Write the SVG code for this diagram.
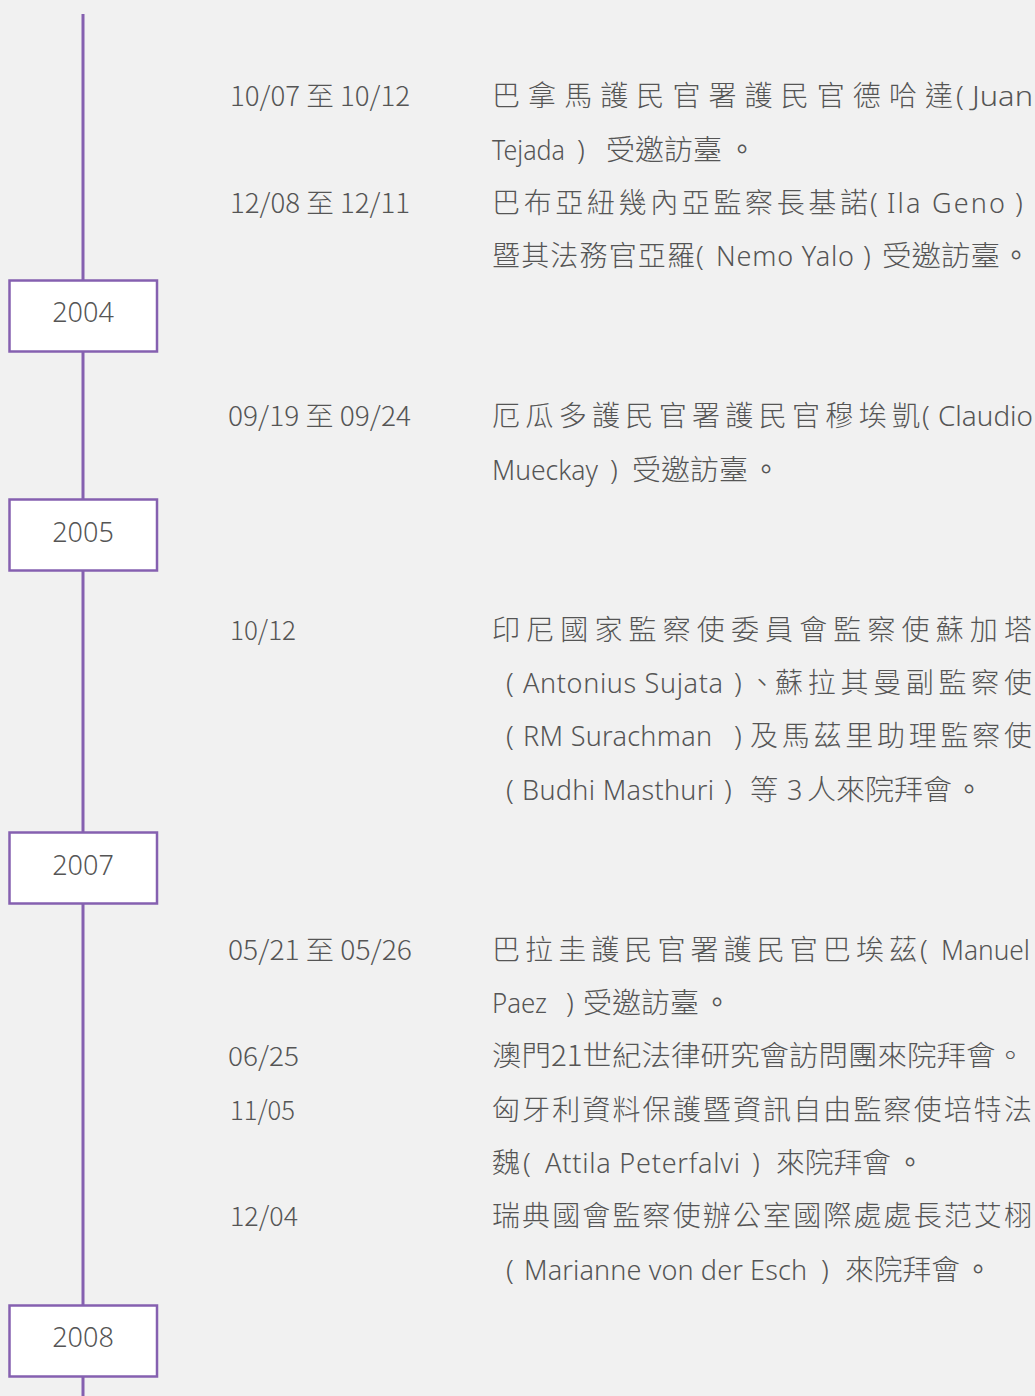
<svg xmlns="http://www.w3.org/2000/svg" width="1035" height="1396" viewBox="0 0 1035 1396">
<style>
.bg{fill:#f1f1f1}
.axis{stroke:#8560b0;stroke-width:3;fill:none}
.box{fill:#ffffff;stroke:#8560b0;stroke-width:2.5}
.yr{font-family:"Noto Sans","Noto Sans CJK TC",sans-serif;font-size:27px;fill:#555555;text-anchor:middle;font-weight:300}
.t{font-family:"Noto Sans CJK TC","Noto Sans",sans-serif;font-size:27px;fill:#555555;font-weight:300}
.c{font-family:"Noto Sans CJK TC","Noto Sans",sans-serif;font-size:28px;fill:#555555;font-weight:300}
.l{font-family:"Noto Sans","Noto Sans CJK TC",sans-serif;font-size:27px;fill:#555555;font-weight:300}
.p{font-family:"Noto Sans","Noto Sans CJK TC",sans-serif;font-size:28px;fill:#555555;font-weight:300;text-anchor:middle}
.d{font-family:"Noto Sans CJK TC","Noto Sans",sans-serif;font-size:28px;fill:#555555;text-anchor:middle}
</style>
<rect class="bg" x="0" y="0" width="1035" height="1396"/>
<g id="connectors">
<line class="axis" x1="83" y1="14" x2="83" y2="1396"/>
</g>
<g id="y2004">
<rect class="box" x="9.5" y="280.5" width="147.5" height="71"/>
<text class="yr" x="83" y="322">2004</text>
</g>
<g id="y2005">
<rect class="box" x="9.5" y="499.5" width="147.5" height="71"/>
<text class="yr" x="83" y="542">2005</text>
</g>
<g id="y2007">
<rect class="box" x="9.5" y="832.5" width="147.5" height="71"/>
<text class="yr" x="83" y="875">2007</text>
</g>
<g id="y2008">
<rect class="box" x="9.5" y="1305.5" width="147.5" height="71"/>
<text class="yr" x="83" y="1347">2008</text>
</g>
<g id="events2004">
<text class="t" x="230" y="106" textLength="180" lengthAdjust="spacingAndGlyphs">10/07 至 10/12</text>
<text class="c" x="492" y="106" textLength="461" lengthAdjust="spacing">巴拿馬護民官署護民官德哈達</text>
<text class="p" x="960" y="106">(</text>
<text class="l" x="972" y="106" textLength="61" lengthAdjust="spacingAndGlyphs">Juan</text>
<text class="l" x="492" y="160" textLength="73" lengthAdjust="spacingAndGlyphs">Tejada</text>
<text class="p" x="581" y="160">)</text>
<text class="c" x="606" y="160" textLength="116" lengthAdjust="spacingAndGlyphs">受邀訪臺</text>
<text class="d" x="742" y="160">。</text>
<text class="t" x="230" y="213" textLength="180" lengthAdjust="spacingAndGlyphs">12/08 至 12/11</text>
<text class="c" x="492" y="213" textLength="376" lengthAdjust="spacing">巴布亞紐幾內亞監察長基諾</text>
<text class="p" x="874" y="213">(</text>
<text class="l" x="887" y="213" textLength="118" lengthAdjust="spacing">Ila Geno</text>
<text class="p" x="1019" y="213">)</text>
<text class="c" x="492" y="266" textLength="203" lengthAdjust="spacing">暨其法務官亞羅</text>
<text class="p" x="700" y="266">(</text>
<text class="l" x="716" y="266" textLength="138" lengthAdjust="spacing">Nemo Yalo</text>
<text class="p" x="867" y="266">)</text>
<text class="c" x="882" y="266" textLength="118" lengthAdjust="spacingAndGlyphs">受邀訪臺</text>
<text class="d" x="1016" y="266">。</text>
</g>
<g id="events2005">
<text class="t" x="228" y="426" textLength="183" lengthAdjust="spacingAndGlyphs">09/19 至 09/24</text>
<text class="c" x="492" y="426" textLength="428" lengthAdjust="spacing">厄瓜多護民官署護民官穆埃凱</text>
<text class="p" x="926" y="426">(</text>
<text class="l" x="938" y="426" textLength="95" lengthAdjust="spacingAndGlyphs">Claudio</text>
<text class="l" x="492" y="480" textLength="106" lengthAdjust="spacingAndGlyphs">Mueckay</text>
<text class="p" x="614" y="480">)</text>
<text class="c" x="632" y="480" textLength="116" lengthAdjust="spacingAndGlyphs">受邀訪臺</text>
<text class="d" x="766" y="480">。</text>
</g>
<g id="events2007">
<text class="t" x="230" y="640" textLength="66" lengthAdjust="spacingAndGlyphs">10/12</text>
<text class="c" x="492" y="640" textLength="540" lengthAdjust="spacing">印尼國家監察使委員會監察使蘇加塔</text>
<text class="p" x="510" y="693">(</text>
<text class="l" x="523" y="693" textLength="200" lengthAdjust="spacing">Antonius Sujata</text>
<text class="p" x="738" y="693">)</text>
<text class="c" x="748" y="693">、</text>
<text class="c" x="775" y="693" textLength="257" lengthAdjust="spacing">蘇拉其曼副監察使</text>
<text class="p" x="510" y="746">(</text>
<text class="l" x="523" y="746" textLength="189" lengthAdjust="spacing">RM Surachman</text>
<text class="p" x="738" y="746">)</text>
<text class="c" x="750" y="746" textLength="282" lengthAdjust="spacing">及馬茲里助理監察使</text>
<text class="p" x="510" y="800">(</text>
<text class="l" x="522" y="800" textLength="192" lengthAdjust="spacing">Budhi Masthuri</text>
<text class="p" x="728" y="800">)</text>
<text class="c" x="750" y="800">等</text>
<text class="l" x="787" y="800">3</text>
<text class="c" x="807" y="800" textLength="145" lengthAdjust="spacingAndGlyphs">人來院拜會</text>
<text class="d" x="969" y="800">。</text>
</g>
<g id="events2008">
<text class="t" x="228" y="960" textLength="184" lengthAdjust="spacingAndGlyphs">05/21 至 05/26</text>
<text class="c" x="492" y="960" textLength="425" lengthAdjust="spacing">巴拉圭護民官署護民官巴埃茲</text>
<text class="p" x="924" y="960">(</text>
<text class="l" x="941" y="960" textLength="89" lengthAdjust="spacingAndGlyphs">Manuel</text>
<text class="l" x="492" y="1013" textLength="55" lengthAdjust="spacingAndGlyphs">Paez</text>
<text class="p" x="570" y="1013">)</text>
<text class="c" x="583" y="1013" textLength="116" lengthAdjust="spacingAndGlyphs">受邀訪臺</text>
<text class="d" x="717" y="1013">。</text>
<text class="t" x="228" y="1066" textLength="71" lengthAdjust="spacingAndGlyphs">06/25</text>
<text class="c" x="492" y="1066" textLength="533" lengthAdjust="spacingAndGlyphs">澳門21世紀法律研究會訪問團來院拜會。</text>
<text class="t" x="230" y="1120" textLength="65" lengthAdjust="spacingAndGlyphs">11/05</text>
<text class="c" x="492" y="1120" textLength="540" lengthAdjust="spacing">匈牙利資料保護暨資訊自由監察使培特法</text>
<text class="c" x="492" y="1173">魏</text>
<text class="p" x="527" y="1173">(</text>
<text class="l" x="545" y="1173" textLength="195" lengthAdjust="spacing">Attila Peterfalvi</text>
<text class="p" x="756" y="1173">)</text>
<text class="c" x="776" y="1173" textLength="115" lengthAdjust="spacingAndGlyphs">來院拜會</text>
<text class="d" x="910" y="1173">。</text>
<text class="t" x="230" y="1226" textLength="68" lengthAdjust="spacingAndGlyphs">12/04</text>
<text class="c" x="492" y="1226" textLength="540" lengthAdjust="spacing">瑞典國會監察使辦公室國際處處長范艾栩</text>
<text class="p" x="510" y="1280">(</text>
<text class="l" x="524" y="1280" textLength="283" lengthAdjust="spacing">Marianne von der Esch</text>
<text class="p" x="825" y="1280">)</text>
<text class="c" x="845" y="1280" textLength="115" lengthAdjust="spacingAndGlyphs">來院拜會</text>
<text class="d" x="978" y="1280">。</text>
</g>
</svg>
